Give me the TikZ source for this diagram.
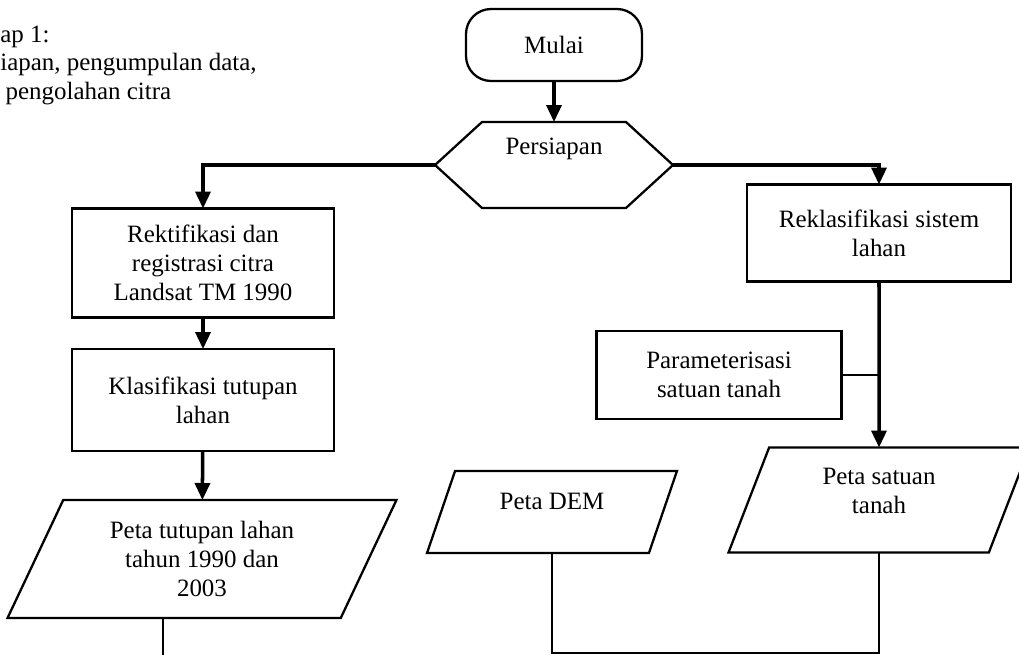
\documentclass[tikz,border=0pt]{standalone}
\usepackage{fontspec}
\setmainfont{Liberation Serif}
\usetikzlibrary{arrows.meta,shapes.geometric}

\begin{document}
\begin{tikzpicture}[
  x=0.02cm, y=-0.02cm,
  font=\fontsize{14.2}{16.5}\selectfont,
  box/.style={draw, line width=1.3pt, align=center, inner sep=2pt, outer sep=0pt},
  startbox/.style={box, rounded corners=0.5cm, minimum width=3.52cm, minimum height=1.44cm},
  databox/.style={box, trapezium, trapezium stretches body, trapezium left angle=#1, trapezium right angle=180-#1},
  arrow/.style={-{Triangle[length=0.34cm, width=0.3cm]}, line width=2pt},
  link/.style={line width=1.3pt}
]
\useasboundingbox (0,0) rectangle (1019,655);

\node[anchor=north west, align=left, inner sep=0pt, font=\fontsize{14.2}{16}\selectfont] (tahap) at (0,26)
  {ap 1:\\iapan, pengumpulan data,\\\hspace*{3pt}pengolahan citra};

\node[startbox] (mulai) at (554,45) {Mulai};
\node[box, draw=none, minimum width=4.76cm, minimum height=1.72cm, text depth=0.75cm] (prep) at (554,165) {Persiapan};
\draw[line width=1.3pt] (prep.west) -- ([xshift=0.94cm]prep.north west) -- ([xshift=-0.94cm]prep.north east)
  -- (prep.east) -- ([xshift=-0.94cm]prep.south east) -- ([xshift=0.94cm]prep.south west) -- cycle;

\node[box, minimum width=5.24cm, minimum height=2.18cm] (rekt) at (203,263) {Rektifikasi dan\\registrasi citra\\Landsat TM 1990};
\node[box, minimum width=5.24cm, minimum height=2.04cm] (klas) at (203,400) {Klasifikasi tutupan\\lahan};
\node[databox=56, minimum width=7.78cm, minimum height=2.36cm] (tutup) at (202,559) {Peta tutupan lahan\\tahun 1990 dan\\2003};

\node[box, minimum width=5.28cm, minimum height=1.94cm] (rekl) at (879,233) {Reklasifikasi sistem\\lahan};
\node[box, minimum width=4.9cm, minimum height=1.76cm] (param) at (719,375) {Parameterisasi\\satuan tanah};
\node[databox=58, minimum width=5.0cm, minimum height=1.64cm, text depth=0.43cm] (dem) at (552,512) {Peta DEM};
\node[databox=60, minimum width=6.02cm, minimum height=2.1cm, text depth=0.36cm] (satuan) at (879,500) {Peta satuan\\tanah};

\coordinate (tutupOut) at (163,660);

\draw[arrow] (mulai) -- (prep.north);
\draw[arrow] (prep.west) -| (rekt);
\draw[arrow] (prep.east) -| (rekl);
\draw[arrow] (rekt) -- (klas);
\draw[arrow] (klas) -- (tutup);
\draw[arrow] (rekl) -- (satuan);
\draw[link] (param) -- (param -| rekl);
\draw[link] (tutup.south -| tutupOut) -- (tutupOut);
\draw[link] (dem.south) -- ++(0,100) -| (satuan.south);
\end{tikzpicture}
\end{document}
